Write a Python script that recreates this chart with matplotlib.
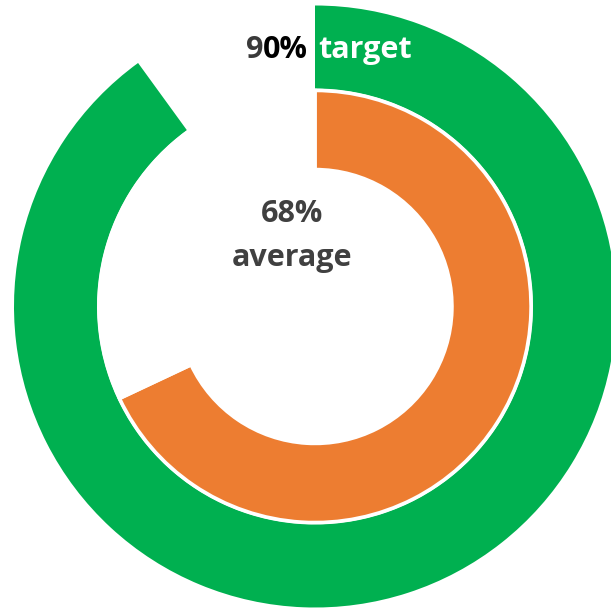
import matplotlib
matplotlib.use("Agg")
import matplotlib.pyplot as plt

# data
target = 90
average = 68
target_label = "target"
average_label = "average"

green = "#00B050"
orange = "#ED7D31"

fig = plt.figure(figsize=(6.11, 6.12), dpi=100)
ax = fig.add_axes([0, 0, 1, 1])

cx, cy = 315, 612 - 306.5

# outer ring: target
ax.pie([target, 100 - target], radius=301, center=(cx, cy), startangle=90,
       counterclock=False, colors=[green, "none"],
       wedgeprops=dict(width=83, edgecolor="none"))

# inner ring: average
ax.pie([average, 100 - average], radius=216, center=(cx, cy), startangle=90,
       counterclock=False, colors=[orange, "none"],
       wedgeprops=dict(width=79, edgecolor="white", linewidth=2.5))

ax.set_xlim(0, 611)
ax.set_ylim(0, 612)
ax.set_aspect("equal")
ax.axis("off")

font = dict(family="Open Sans", fontweight="bold", fontsize=22)

# top label, split around the ring edge
t0 = ax.text(308, 612 - 50, "0%", ha="right", va="center", color="black", **font)
ax.text(318, 612 - 50, target_label, ha="left", va="center", color="white", **font)

fig.canvas.draw()
bb = t0.get_window_extent().transformed(ax.transData.inverted())
ax.text(bb.x0, 612 - 50, "9", ha="right", va="center", color="#3a3a3a", **font)

# centre label
ax.text(292, 612 - 214, f"{average}%", ha="center", va="center", color="#404040", **font)
ax.text(292, 612 - 258, average_label, ha="center", va="center", color="#404040", **font)

fig.savefig("out.png", dpi=100)
